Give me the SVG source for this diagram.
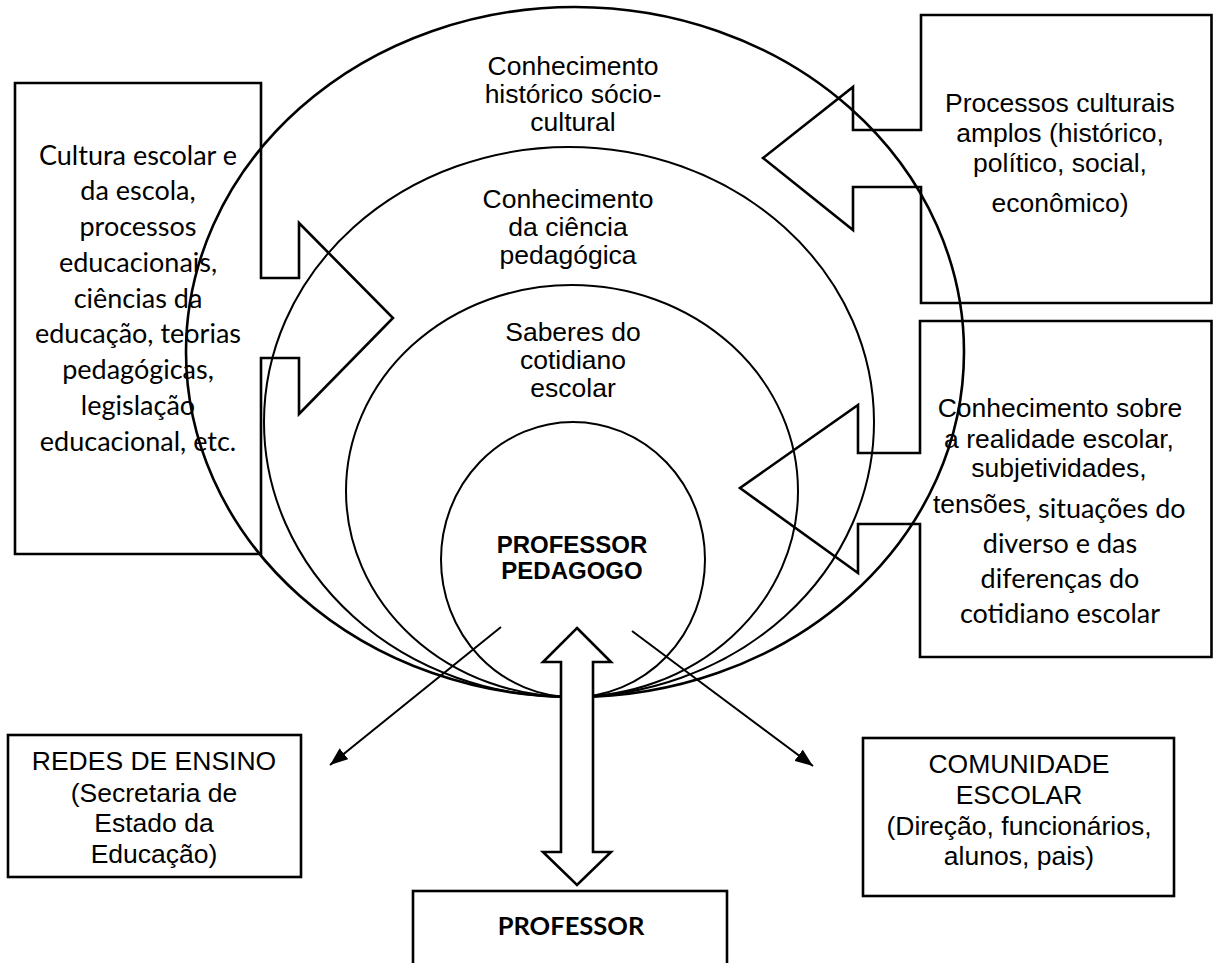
<svg xmlns="http://www.w3.org/2000/svg" width="1214" height="963" viewBox="0 0 1214 963">
<style>
.bg{fill:#ffffff}
.ell{fill:none;stroke:#000;stroke-width:2}
.ell1{fill:none;stroke:#000;stroke-width:2.6}
.box{fill:none;stroke:#000;stroke-width:2.6;stroke-linejoin:miter}
.thin{fill:none;stroke:#000;stroke-width:2}
.dbl{fill:#fff;stroke:#000;stroke-width:2.6;stroke-linejoin:miter}
.a{font-family:"Liberation Sans",Arial,sans-serif;font-size:26.5px;fill:#000;text-anchor:middle}
.ab{font-family:"Liberation Sans",Arial,sans-serif;font-size:24px;font-weight:bold;fill:#000;text-anchor:middle}
.c{font-family:Lato,"Open Sans",sans-serif;font-size:27px;fill:#000;text-anchor:middle}
.cb{font-family:Lato,"Open Sans",sans-serif;font-size:25.5px;font-weight:bold;fill:#000;text-anchor:middle}
.l{text-anchor:start}
</style>
<defs>
<marker id="ah" viewBox="0 0 18 14" refX="18" refY="7" markerWidth="18" markerHeight="14" markerUnits="userSpaceOnUse" orient="auto">
<path d="M0,0 L18,7 L0,14 Z" fill="#000"/>
</marker>
</defs>
<rect class="bg" x="0" y="0" width="1214" height="963"/>

<g id="circle-historico">
<ellipse class="ell1" cx="575" cy="352" rx="389" ry="345"/>
<text class="a" x="573" y="75">Conhecimento</text>
<text class="a" x="573" y="103">histórico sócio-</text>
<text class="a" x="573" y="131">cultural</text>
</g>

<g id="circle-ciencia">
<ellipse class="ell" cx="569" cy="422" rx="305" ry="275"/>
<text class="a" x="568" y="208">Conhecimento</text>
<text class="a" x="568" y="236">da ciência</text>
<text class="a" x="568" y="264">pedagógica</text>
</g>

<g id="circle-saberes">
<ellipse class="ell" cx="572" cy="491" rx="226" ry="206"/>
<text class="a" x="573" y="341">Saberes do</text>
<text class="a" x="573" y="369">cotidiano</text>
<text class="a" x="573" y="397">escolar</text>
</g>

<g id="circle-professor-pedagogo">
<ellipse class="ell" cx="573" cy="559.5" rx="132" ry="137.5"/>
<text class="ab" x="572" y="553">PROFESSOR</text>
<text class="ab" x="572" y="579">PEDAGOGO</text>
</g>

<g id="box-cultura-escolar">
<path class="box" d="M15,83 H261 V278 H299 V223 L393,318 L299,414 V358 H261 V554 H15 Z"/>
<text class="c" x="138" y="165">Cultura escolar e</text>
<text class="c" x="138" y="200">da escola,</text>
<text class="c" x="138" y="236">processos</text>
<text class="c" x="138" y="272">educacionais,</text>
<text class="c" x="138" y="308">ciências da</text>
<text class="c" x="138" y="343">educação, teorias</text>
<text class="c" x="138" y="379">pedagógicas,</text>
<text class="c" x="138" y="415">legislação</text>
<text class="c" x="138" y="451">educacional, etc.</text>
</g>

<g id="box-processos-culturais">
<path class="box" d="M921,15 H1211.5 V303 H921 V187 H853 V230 L763,158 L853,87 V130 H921 Z"/>
<text class="a" x="1060" y="112">Processos culturais</text>
<text class="a" x="1060" y="142">amplos (histórico,</text>
<text class="a" x="1060" y="172">político, social,</text>
<text class="a" x="1060" y="212">econômico)</text>
</g>

<g id="box-realidade-escolar">
<path class="box" d="M920,321 H1211.5 V657 H920 V524 H858 V573 L740,488 L858,405 V453 H920 Z"/>
<text class="a" x="1060" y="417">Conhecimento sobre</text>
<text class="a" x="1059" y="448">a realidade escolar,</text>
<text class="a" x="1059" y="477">subjetividades,</text>
<text class="a l" x="933" y="513">tensões</text>
<text class="c l" x="1025" y="518">, situações do</text>
<text class="c" x="1060" y="553">diverso e das</text>
<text class="c" x="1060" y="588">diferenças do</text>
<text class="c" x="1060" y="623">cotidiano escolar</text>
</g>

<g id="box-redes-de-ensino">
<rect class="box" x="8" y="735" width="293" height="142"/>
<text class="a" x="154" y="770">REDES DE ENSINO</text>
<text class="a" x="154" y="802">(Secretaria de</text>
<text class="a" x="154" y="832">Estado da</text>
<text class="a" x="154" y="863">Educação)</text>
</g>

<g id="box-comunidade-escolar">
<rect class="box" x="863" y="738" width="311" height="158"/>
<text class="a" x="1019" y="773">COMUNIDADE</text>
<text class="a" x="1019" y="804">ESCOLAR</text>
<text class="a" x="1019" y="835">(Direção, funcionários,</text>
<text class="a" x="1019" y="865">alunos, pais)</text>
</g>

<g id="box-professor">
<rect class="box" x="413" y="891" width="314" height="90"/>
<text class="cb" x="571" y="935">PROFESSOR</text>
</g>

<g id="connectors">
<line class="thin" x1="501" y1="627" x2="330" y2="765" marker-end="url(#ah)"/>
<line class="thin" x1="632" y1="631" x2="813" y2="766" marker-end="url(#ah)"/>
<path class="dbl" d="M577,628 L611,662 H593 V852 H611 L577,885 L543,852 H561 V662 H543 Z"/>
</g>
</svg>
